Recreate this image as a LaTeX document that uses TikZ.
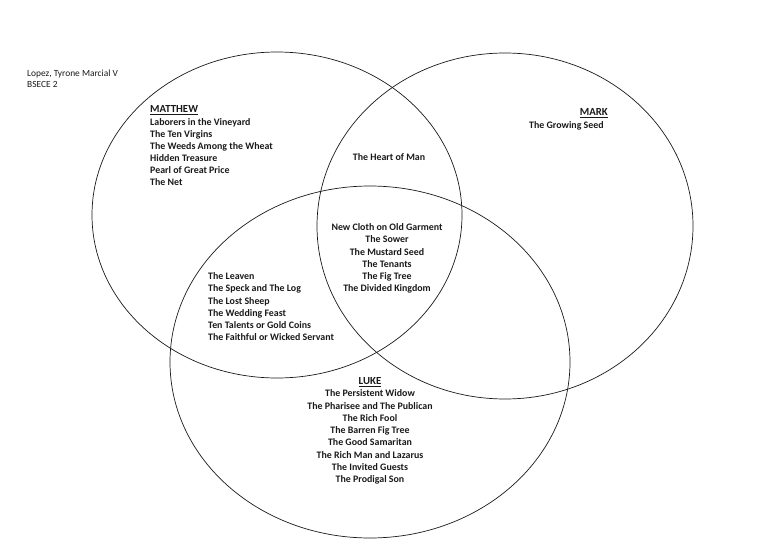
\documentclass[tikz,border=0pt]{standalone}
\usepackage{fontspec}
\setmainfont{Carlito}
\begin{document}
\begin{tikzpicture}[x=1pt,y=-1pt,
  ring/.style={draw=black!90,line width=0.7pt},
  txt/.style={inner sep=0pt,font=\fontsize{9.9}{11}\selectfont\bfseries,text=black!90},
  hd/.style={inner sep=0pt,font=\fontsize{10.8}{12}\selectfont\bfseries,text=black!90},
  hdr/.style={inner sep=0pt,font=\fontsize{9.4}{11}\selectfont,text=black!90},
  lft/.style={txt,anchor=base west},
  ctr/.style={txt,anchor=base}]
\useasboundingbox (0,0) rectangle (768,543);
% ellipses
\draw[ring] (277,215) ellipse [x radius=185pt, y radius=163pt];
\draw[ring] (505,226) ellipse [x radius=188pt, y radius=173pt];
\draw[ring] (370,362) ellipse [x radius=200pt, y radius=176pt];
% author
\node[hdr,anchor=base west] (name) at (27,76) {Lopez, Tyrone Marcial V};
\node[hdr,anchor=base west] (sec) at (27,88) {BSECE 2};
% Matthew
\node[hd,anchor=base west] (mt) at (150,112.5) {\underline{MATTHEW}};
\foreach \t [count=\i] in {Laborers in the Vineyard,The Ten Virgins,The Weeds Among the Wheat,Hidden Treasure,Pearl of Great Price,The Net}
  \node[lft] (mt\i) at (150,{113.5+12*\i}) {\t};
% Mark
\node[hd,anchor=base east] (mk) at (608,115.5) {\underline{MARK}};
\node[lft] (mk1) at (529,128.5) {The Growing Seed};
% Matthew & Mark
\node[ctr] (mm1) at (389,160.5) {The Heart of Man};
% all three
\foreach \t [count=\i] in {New Cloth on Old Garment,The Sower,The Mustard Seed,The Tenants,The Fig Tree,The Divided Kingdom}
  \node[ctr] (c\i) at (387,{218.5+12.2*\i}) {\t};
% Matthew & Luke
\foreach \t [count=\i] in {The Leaven,The Speck and The Log,The Lost Sheep,The Wedding Feast,Ten Talents or Gold Coins,The Faithful or Wicked Servant}
  \node[lft] (ml\i) at (208,{267.5+12.2*\i}) {\t};
% Luke
\node[hd,anchor=base] (lk) at (370,384.5) {\underline{LUKE}};
\foreach \t [count=\i] in {The Persistent Widow,The Pharisee and The Publican,The Rich Fool,The Barren Fig Tree,The Good Samaritan,The Rich Man and Lazarus,The Invited Guests,The Prodigal Son}
  \node[ctr] (lk\i) at (370,{384.5+12.25*\i}) {\t};
\end{tikzpicture}
\end{document}
